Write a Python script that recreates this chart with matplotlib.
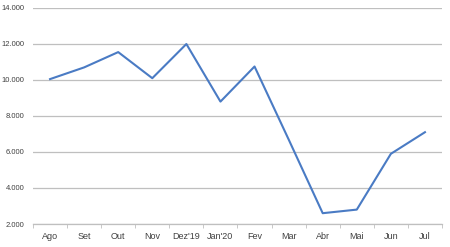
import matplotlib
matplotlib.use("Agg")
import matplotlib.pyplot as plt
from matplotlib.ticker import FixedLocator, FuncFormatter

months = ['Ago', 'Set', 'Out', 'Nov', "Dez'19", "Jan'20", 'Fev', 'Mar', 'Abr', 'Mai', 'Jun', 'Jul']
values = [10050, 10700, 11550, 10100, 12000, 8800, 10750, 6700, 2600, 2800, 5900, 7100]
yticks = [2000, 4000, 6000, 8000, 10000, 12000, 14000]

plt.rcParams['font.family'] = ['Liberation Sans', 'DejaVu Sans']

fig = plt.figure(figsize=(4.5, 2.47), dpi=100)
ax = fig.add_axes([33 / 450, 23 / 247, 409 / 450, 216 / 247])

x = list(range(len(months)))
ax.plot(x, values, color='#4a7bc4', linewidth=1.5)

ax.set_xlim(-0.5, len(months) - 0.5)
ax.set_ylim(2000, 14000)
ax.set_yticks(yticks)
ax.yaxis.set_major_formatter(FuncFormatter(lambda v, p: f"{int(v):,}".replace(',', '.')))
ax.grid(axis='y', color='#bfbfbf', linewidth=0.9)
ax.set_axisbelow(True)

ax.set_xticks(x)
ax.set_xticklabels(months)
ax.xaxis.set_minor_locator(FixedLocator([i - 0.5 for i in range(len(months) + 1)]))
ax.tick_params(axis='x', which='major', length=0, labelsize=6.5, pad=6, colors='#404040')
ax.tick_params(axis='x', which='minor', length=3, color='#bfbfbf')
ax.tick_params(axis='y', length=0, labelsize=5.5, colors='#404040', pad=6)

for side in ['top', 'right', 'left']:
    ax.spines[side].set_visible(False)
ax.spines['bottom'].set_color('#bfbfbf')
ax.spines['bottom'].set_linewidth(0.9)

fig.savefig('out.png', dpi=100)
